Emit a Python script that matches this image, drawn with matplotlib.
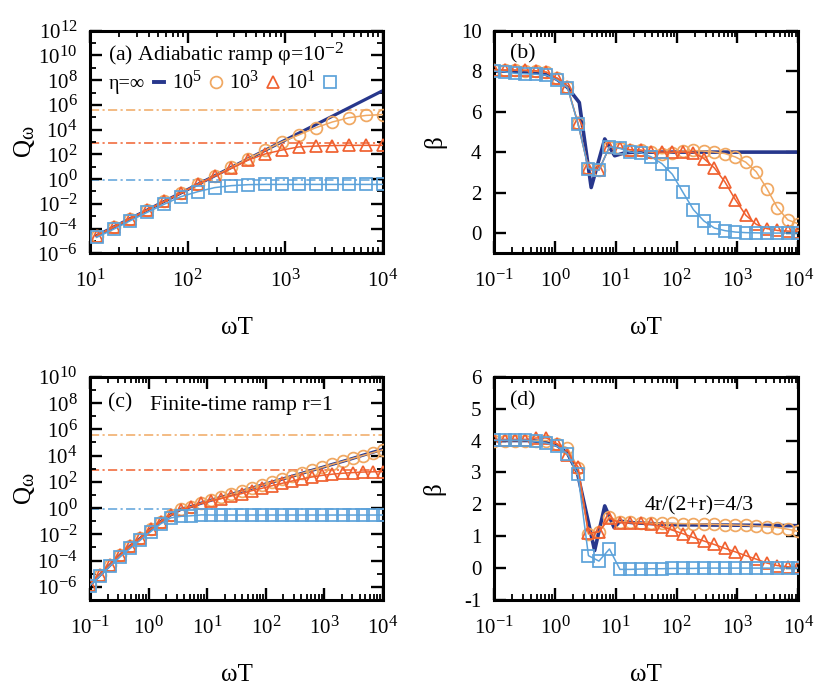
import numpy as np
import matplotlib
matplotlib.use('Agg')
import matplotlib.pyplot as plt
from matplotlib.lines import Line2D
from matplotlib.ticker import FixedLocator, NullFormatter, FuncFormatter, LogLocator
try:
    import matplotlib._mathtext as _mt
    _mt.SHRINK_FACTOR = 0.8
except Exception:
    pass

plt.rcParams['font.family'] = ['Liberation Serif', 'DejaVu Serif']
plt.rcParams['mathtext.fontset'] = 'custom'
plt.rcParams['mathtext.rm'] = 'Liberation Serif'
plt.rcParams['mathtext.it'] = 'Liberation Serif:italic'
plt.rcParams['mathtext.bf'] = 'Liberation Serif:bold'
plt.rcParams['axes.unicode_minus'] = False

# ---------------- data ----------------
omegaT = [0.1, 0.1487, 0.2212, 0.3290, 0.4894, 0.7279, 1.0826, 1.6103, 2.3950,
          3.5622, 5.2983, 7.8805, 11.721, 17.433, 25.929, 38.566, 57.362, 85.317,
          126.90, 188.74, 280.72, 417.53, 621.02, 923.67, 1373.8, 2043.4, 3039.2,
          4520.4, 6723.4, 10000.0]

# saturation levels (log10 Q) for eta = 1e5, 1e3, 1e1
sat_levels = [5.57, 2.89, -0.06]

# panel (a): log10 Q, omegaT[12:]
a_inf = [-4.57, -3.88, -3.19, -2.50, -1.81, -1.12, -0.43, 0.26, 0.95, 1.64,
         2.33, 3.02, 3.71, 4.40, 5.09, 5.78, 6.47, 7.16]
a_e5 = [-4.57, -3.88, -3.19, -2.50, -1.81, -1.12, -0.43, 0.26, 0.95, 1.66,
        2.33, 3.02, 3.57, 4.15, 4.62, 4.97, 5.15, 5.22]
a_e3 = [-4.57, -3.88, -3.19, -2.50, -1.81, -1.12, -0.43, 0.24, 0.87, 1.54,
        2.03, 2.35, 2.60, 2.67, 2.71, 2.73, 2.73, 2.73]
a_e1 = [-4.71, -4.06, -3.36, -2.69, -2.04, -1.42, -1.02, -0.69, -0.53, -0.45,
        -0.43, -0.43, -0.43, -0.43, -0.43, -0.43, -0.43, -0.43]

# panel (b): beta
b_inf_x = [0.1, 0.2, 0.4, 0.7, 1.08, 1.61, 2.52, 3.95, 6.6, 9.6, 14.3, 21.0, 10000.0]
b_inf = [8.0, 8.0, 7.95, 7.85, 7.6, 7.2, 6.45, 2.25, 4.65, 3.82, 3.97, 4.0, 4.0]
b_e5 = [8.05, 8.05, 8.05, 8.03, 8.0, 7.95, 7.65, 7.22, 5.42, 3.22, 3.12, 4.25,
        4.2, 4.1, 4.08, 4.0, 3.92, 3.98, 4.05, 4.08, 4.05, 4.0, 3.93, 3.76, 3.5,
        3.02, 2.2, 1.26, 0.65, 0.46]
b_e3 = [8.05, 8.05, 8.05, 8.05, 8.02, 7.95, 7.65, 7.22, 5.42, 3.22, 3.12, 4.25,
        4.2, 4.12, 4.1, 4.02, 4.0, 4.0, 4.0, 3.98, 3.68, 3.22, 2.53, 1.65, 0.88,
        0.43, 0.22, 0.13, 0.1, 0.07]
b_e1 = [8.0, 7.97, 7.89, 7.87, 7.85, 7.8, 7.56, 7.19, 5.41, 3.18, 3.1, 4.26,
        4.18, 4.0, 3.97, 3.76, 3.43, 2.9, 2.02, 1.16, 0.6, 0.25, 0.12, 0.05, 0.02,
        0.01, 0.0, 0.0, 0.0, 0.0]

# panel (c): log10 Q
c_inf = [-5.85, -5.09, -4.33, -3.57, -2.88, -2.30, -1.61, -1.03, -0.52, -0.09,
         0.11, 0.37, 0.60, 0.82, 1.05, 1.28, 1.51, 1.74, 1.97, 2.20, 2.42, 2.65,
         2.88, 3.10, 3.33, 3.55, 3.78, 4.02, 4.25, 4.48]
c_e5 = [-5.85, -5.09, -4.33, -3.57, -2.88, -2.30, -1.61, -1.03, -0.52, -0.09,
        0.11, 0.37, 0.60, 0.82, 1.05, 1.28, 1.51, 1.74, 1.97, 2.20, 2.42, 2.65,
        2.88, 3.10, 3.33, 3.55, 3.78, 4.00, 4.22, 4.44]
c_e3 = [-5.85, -5.09, -4.33, -3.57, -2.88, -2.30, -1.61, -1.05, -0.55, -0.12,
        0.09, 0.35, 0.56, 0.72, 0.92, 1.10, 1.32, 1.50, 1.70, 1.88, 2.06, 2.22,
        2.37, 2.49, 2.58, 2.65, 2.70, 2.74, 2.76, 2.77]
c_e1 = [-5.90, -5.17, -4.41, -3.70, -3.06, -2.43, -1.80, -1.20, -0.75, -0.63,
        -0.59, -0.52, -0.53, -0.53, -0.53, -0.53, -0.53, -0.53, -0.53, -0.53,
        -0.53, -0.53, -0.53, -0.53, -0.53, -0.53, -0.53, -0.53, -0.53, -0.53]

# panel (d): beta
d_inf_x = [0.1, 0.2, 0.4, 0.7, 1.08, 1.61, 2.34, 4.5, 6.6, 9.4, 11.8, 20.0, 100.0, 10000.0]
d_inf = [4.0, 4.0, 4.0, 3.95, 3.85, 3.6, 3.0, 0.55, 1.95, 1.27, 1.47, 1.42, 1.36, 1.33]
d_e5 = [4.0, 4.0, 4.0, 4.0, 4.0, 4.0, 3.9, 3.77, 3.15, 1.06, 1.14, 1.61, 1.45,
        1.43, 1.42, 1.41, 1.40, 1.40, 1.39, 1.39, 1.38, 1.37, 1.36, 1.35, 1.34,
        1.32, 1.30, 1.27, 1.22, 1.15]
d_e3 = [4.02, 4.02, 4.02, 4.02, 4.08, 4.08, 3.9, 3.56, 3.18, 1.09, 1.14, 1.56,
        1.42, 1.42, 1.40, 1.37, 1.30, 1.19, 1.08, 0.96, 0.85, 0.74, 0.62, 0.51,
        0.39, 0.28, 0.16, 0.08, 0.04, 0.02]
d_e1 = [4.01, 4.01, 4.01, 4.01, 3.97, 3.92, 3.82, 3.58, 2.94, 0.39, 0.22, 0.6,
        -0.04, -0.04, -0.03, -0.02, -0.02, -0.01, -0.01, -0.01, 0.0, 0.0, 0.0,
        0.0, 0.0, 0.0, 0.0, 0.0, 0.0, 0.0]

legend_labels = ['η=∞', '$\\mathregular{10^{5}}$', '$\\mathregular{10^{3}}$', '$\\mathregular{10^{1}}$']

# ---------------- style ----------------
C_INF = '#27378c'
C_E5 = '#f0a862'
C_E3 = '#f0602f'
C_E1 = '#5ca2da'
TICK_FS = 15
TXT_FS = 15.7
LEG_FS = 14.5
LAB_FS = 18

fig = plt.figure(figsize=(8.3, 6.93), dpi=100)
axA = fig.add_axes([0.1084, 0.6345, 0.3530, 0.3212])
axB = fig.add_axes([0.5952, 0.6345, 0.3666, 0.3212])
axC = fig.add_axes([0.1084, 0.1342, 0.3530, 0.3222])
axD = fig.add_axes([0.5952, 0.1342, 0.3666, 0.3222])

mk = dict(mfc='none', mew=1.25, lw=1.1)
MS_C, MS_T, MS_S = 8.5, 8.0, 8.3

def pow_fmt(v, p):
    return r'$\mathdefault{10^{%d}}$' % int(round(np.log10(v)))

def style(ax):
    for s in ax.spines.values():
        s.set_linewidth(2.2)
    ax.tick_params(which='both', direction='in', top=True, right=True,
                   labelsize=TICK_FS)
    ax.tick_params(which='major', length=8.5, width=1.7)
    ax.tick_params(which='minor', length=4.2, width=1.3)
    ax.tick_params(axis='x', which='both', pad=12)
    ax.tick_params(axis='y', which='both', pad=9)
    ax.set_xscale('log')
    ax.xaxis.set_major_locator(LogLocator(base=10, numticks=20))
    ax.xaxis.set_minor_locator(LogLocator(base=10, subs=np.arange(2, 10), numticks=20))
    ax.xaxis.set_major_formatter(FuncFormatter(pow_fmt))
    ax.xaxis.set_minor_formatter(NullFormatter())
    ax.set_xlabel('ωT', fontsize=LAB_FS, ha='center', va='center')

def q_panel(ax, x, inf, e5, e3, e1, ymin, ymax):
    style(ax)
    ax.set_yscale('log')
    for lv, c in zip(sat_levels, [C_E5, C_E3, C_E1]):
        ax.axhline(10 ** lv, color=c, lw=1.1, ls=(0, (6, 2.2, 1.4, 2.2)), zorder=1)
    ax.plot(x, 10 ** np.array(inf), '-', color=C_INF, lw=2.3, zorder=2)
    ax.plot(x, 10 ** np.array(e5), '-', color=C_E5, marker='o', ms=MS_C, mec=C_E5, zorder=3, **mk)
    ax.plot(x, 10 ** np.array(e3), '-', color=C_E3, marker='^', ms=MS_T, mec=C_E3, zorder=4, **mk)
    ax.plot(x, 10 ** np.array(e1), '-', color=C_E1, marker='s', ms=MS_S, mec=C_E1, zorder=5, **mk)
    ax.set_ylim(10.0 ** ymin, 10.0 ** ymax)
    lo = ymin if ymin % 2 == 0 else ymin + 1
    ax.yaxis.set_major_locator(FixedLocator([10.0 ** e for e in range(int(lo), int(ymax) + 1, 2)]))
    ax.yaxis.set_minor_locator(FixedLocator([10.0 ** e for e in range(int(lo) + 1, int(ymax), 2)]))
    ax.yaxis.set_major_formatter(FuncFormatter(pow_fmt))
    ax.yaxis.set_minor_formatter(NullFormatter())
    ax.set_ylabel('Q$_{\\mathregular{ω}}$', fontsize=LAB_FS, ha='center', va='center')

def b_panel(ax, xi, inf, e5, e3, e1, ymin, ymax, step):
    style(ax)
    ax.plot(xi, inf, '-', color=C_INF, lw=2.6, zorder=2)
    ax.plot(omegaT, e5, '-', color=C_E5, marker='o', ms=MS_C, mec=C_E5, zorder=3, **mk)
    ax.plot(omegaT, e3, '-', color=C_E3, marker='^', ms=MS_T, mec=C_E3, zorder=4, **mk)
    ax.plot(omegaT, e1, '-', color=C_E1, marker='s', ms=MS_S, mec=C_E1, zorder=5, **mk)
    ax.set_xlim(0.1, 1e4)
    ax.set_ylim(ymin, ymax)
    ax.yaxis.set_major_locator(FixedLocator(list(range(int(ymin) if step == 1 else 0, int(ymax) + 1, step))))
    ax.set_ylabel('β', fontsize=LAB_FS, ha='center', va='center')

q_panel(axA, omegaT[12:], a_inf, a_e5, a_e3, a_e1, -6, 12)
axA.set_xlim(10, 1e4)
q_panel(axC, omegaT, c_inf, c_e5, c_e3, c_e1, -7, 10)
axC.set_xlim(0.1, 1e4)
b_panel(axB, b_inf_x, b_inf, b_e5, b_e3, b_e1, -1, 10, 2)
b_panel(axD, d_inf_x, d_inf, d_e5, d_e3, d_e1, -1, 6, 1)

# label positions
axA.yaxis.set_label_coords(-0.222, 0.5)
axC.yaxis.set_label_coords(-0.222, 0.5)
axB.yaxis.set_label_coords(-0.194, 0.5)
axD.yaxis.set_label_coords(-0.197, 0.5)
for ax in (axA, axB, axC, axD):
    ax.xaxis.set_label_coords(0.5, -0.336)

# annotations
axA.text(0.061, 0.895, '(a) Adiabatic ramp φ=10$^{\\mathregular{-2}}$', transform=axA.transAxes,
         fontsize=TXT_FS, ha='left', va='center')
axB.text(0.053, 0.895, '(b)', transform=axB.transAxes, fontsize=TXT_FS, ha='left', va='center')
axC.text(0.061, 0.882, '(c)', transform=axC.transAxes, fontsize=TXT_FS, ha='left', va='center')
axC.text(0.205, 0.873, 'Finite-time ramp r=1', transform=axC.transAxes, fontsize=TXT_FS,
         ha='left', va='center')
axD.text(0.053, 0.89, '(d)', transform=axD.transAxes, fontsize=TXT_FS, ha='left', va='center')
axD.text(0.496, 0.421, '4r/(2+r)=4/3', transform=axD.transAxes, fontsize=TXT_FS,
         ha='left', va='center')

# legend in (a)
handles = [
    Line2D([], [], color=C_INF, lw=2.8),
    Line2D([], [], ls='none', marker='o', ms=MS_C, mfc='none', mec=C_E5, mew=1.25),
    Line2D([], [], ls='none', marker='^', ms=MS_T, mfc='none', mec=C_E3, mew=1.25),
    Line2D([], [], ls='none', marker='s', ms=MS_S, mfc='none', mec=C_E1, mew=1.25),
]
axA.legend(handles, legend_labels, ncol=4, markerfirst=False, frameon=False,
           fontsize=LEG_FS, handlelength=0.5, handletextpad=0.45, columnspacing=0.4,
           borderpad=0, borderaxespad=0, loc='center left', bbox_to_anchor=(0.065, 0.765))

fig.savefig('out.png', dpi=100)
